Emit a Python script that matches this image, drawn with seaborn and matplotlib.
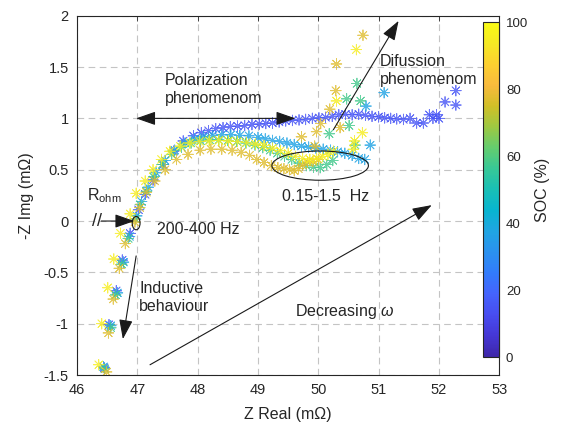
import matplotlib
matplotlib.use("Agg")
import matplotlib.pyplot as plt
import numpy as np
import pandas as pd
import seaborn as sns
from matplotlib.colors import LinearSegmentedColormap, Normalize
from matplotlib.cm import ScalarMappable
from matplotlib.patches import Ellipse
from matplotlib.ticker import FuncFormatter

# ---- impedance spectra (Nyquist), one sweep per state of charge ----
soc_levels = [15, 37, 58, 77, 95]

z_real_a = [46.45, 46.53, 46.65, 46.75, 46.88, 47.02, 47.13, 47.26, 47.43, 47.60,
            47.76, 47.93, 48.06, 48.18, 48.30, 48.42, 48.54, 48.66, 48.78, 48.90,
            49.02, 49.13, 49.24, 49.35, 49.46, 49.57, 49.68, 49.79, 49.90, 50.01,
            50.12, 50.23, 50.34, 50.45, 50.56, 50.67, 50.78, 50.89, 51.00, 51.10,
            51.20, 51.30, 51.41, 51.52, 51.63, 51.74, 51.84, 51.90, 51.96, 52.00,
            52.10, 52.28, 52.28]
z_img_a = [-1.43, -1.01, -0.68, -0.38, -0.12, 0.11, 0.26, 0.40, 0.55, 0.68,
           0.78, 0.83, 0.86, 0.88, 0.90, 0.91, 0.92, 0.925, 0.93, 0.94,
           0.945, 0.95, 0.955, 0.965, 0.975, 0.98, 0.985, 0.99, 1.0, 1.005,
           1.01, 1.02, 1.035, 1.04, 1.035, 1.04, 1.03, 1.02, 1.015, 1.005,
           1.0, 0.995, 0.99, 1.0, 0.955, 0.955, 1.035, 1.0, 1.035, 1.0,
           1.16, 1.13, 1.27]

z_real_b = [46.44, 46.56, 46.67, 46.77, 46.87, 46.99, 47.07, 47.18, 47.31, 47.46,
            47.62, 47.79, 47.95, 48.10, 48.25, 48.40, 48.55, 48.70, 48.85, 49.00,
            49.12, 49.24, 49.36, 49.48, 49.60, 49.72, 49.84, 49.96, 50.08, 50.20,
            50.32, 50.44, 50.56, 50.67, 50.77, 50.86, 50.79, 51.09]
z_img_b = [-1.42, -1.02, -0.70, -0.40, -0.15, 0.05, 0.19, 0.33, 0.47, 0.59,
           0.69, 0.76, 0.80, 0.82, 0.835, 0.84, 0.84, 0.835, 0.83, 0.815,
           0.80, 0.785, 0.775, 0.76, 0.745, 0.73, 0.72, 0.71, 0.70, 0.69,
           0.675, 0.66, 0.64, 0.61, 0.60, 0.74, 1.12, 1.25]

z_real_c = [46.46, 46.56, 46.64, 46.74, 46.85, 46.97, 47.05, 47.15, 47.27, 47.41,
            47.57, 47.73, 47.89, 48.05, 48.20, 48.35, 48.50, 48.65, 48.80, 48.95,
            49.08, 49.20, 49.32, 49.44, 49.56, 49.68, 49.80, 49.92, 50.03, 50.14,
            50.24, 50.18, 50.61, 50.51, 50.70, 50.47, 50.64]
z_img_c = [-1.44, -1.04, -0.72, -0.42, -0.17, 0.02, 0.16, 0.29, 0.43, 0.55,
           0.65, 0.72, 0.76, 0.78, 0.79, 0.79, 0.785, 0.775, 0.76, 0.74,
           0.715, 0.69, 0.66, 0.63, 0.60, 0.565, 0.54, 0.525, 0.52, 0.55,
           0.59, 0.85, 0.74, 0.93, 1.17, 1.19, 1.34]

z_real_d = [46.49, 46.52, 46.60, 46.70, 46.80, 46.96, 47.04, 47.15, 47.29, 47.46,
            47.65, 47.84, 48.04, 48.22, 48.40, 48.57, 48.72, 48.86, 48.98, 49.10,
            49.22, 49.33, 49.43, 49.52, 49.60, 49.67, 49.74, 49.82, 49.91, 50.00,
            49.94, 49.72, 49.97, 50.04, 50.36, 50.19, 50.29, 50.30, 50.74]
z_img_d = [-1.47, -1.09, -0.76, -0.46, -0.22, -0.01, 0.13, 0.28, 0.39, 0.50,
           0.60, 0.65, 0.69, 0.70, 0.70, 0.69, 0.67, 0.64, 0.60, 0.57,
           0.54, 0.52, 0.51, 0.50, 0.49, 0.51, 0.545, 0.575, 0.58, 0.60,
           0.73, 0.82, 0.87, 0.95, 0.91, 1.09, 1.27, 1.53, 1.81]

z_real_e = [46.36, 46.41, 46.51, 46.61, 46.72, 46.88, 46.98, 47.13, 47.26, 47.40,
            47.54, 47.71, 47.87, 48.03, 48.19, 48.35, 48.51, 48.66, 48.81, 48.96,
            49.10, 49.24, 49.37, 49.50, 49.62, 49.74, 49.86, 49.97, 50.07, 50.16,
            50.25, 50.30, 50.63, 50.58, 50.60, 50.73]
z_img_e = [-1.40, -1.00, -0.65, -0.37, -0.12, 0.07, 0.27, 0.39, 0.50, 0.60,
           0.68, 0.73, 0.76, 0.775, 0.78, 0.785, 0.78, 0.775, 0.765, 0.75,
           0.735, 0.71, 0.685, 0.66, 0.63, 0.61, 0.60, 0.61, 0.63, 0.65,
           0.68, 1.17, 1.67, 0.70, 0.78, 0.86]

x_ticks = [46, 47, 48, 49, 50, 51, 52, 53]
y_ticks = [-1.5, -1, -0.5, 0, 0.5, 1, 1.5, 2]
cbar_ticks = [0, 20, 40, 60, 80, 100]

sweeps = [(z_real_a, z_img_a), (z_real_b, z_img_b), (z_real_c, z_img_c),
          (z_real_d, z_img_d), (z_real_e, z_img_e)]
df = pd.concat(
    [pd.DataFrame({"z_real": xr, "z_img": yi, "soc": soc})
     for soc, (xr, yi) in zip(soc_levels, sweeps)],
    ignore_index=True,
)

# parula-like colormap
parula_rgb = [
    (0.2422, 0.1504, 0.6603), (0.2706, 0.2147, 0.8364), (0.2813, 0.3006, 0.9414),
    (0.2699, 0.3892, 0.9906), (0.1963, 0.4847, 0.9892), (0.1687, 0.5703, 0.9359),
    (0.1248, 0.6459, 0.8883), (0.0297, 0.7082, 0.8163), (0.0964, 0.7500, 0.7120),
    (0.2161, 0.7843, 0.5923), (0.3909, 0.8029, 0.4354), (0.6174, 0.7876, 0.2612),
    (0.8203, 0.7498, 0.1535), (0.9728, 0.7298, 0.2394), (0.9892, 0.8136, 0.1885),
    (0.9597, 0.9135, 0.1423), (0.9769, 0.9839, 0.0805),
]
parula = LinearSegmentedColormap.from_list("parula", parula_rgb, N=256)

sns.set_theme(style="white")
plt.rcParams["font.family"] = ["Liberation Sans", "DejaVu Sans"]
plt.rcParams["axes.unicode_minus"] = False
plt.rcParams["mathtext.fontset"] = "custom"
plt.rcParams["mathtext.rm"] = "Liberation Sans"
plt.rcParams["mathtext.it"] = "Liberation Sans:italic"

fig = plt.figure(figsize=(5.63, 4.25), dpi=100)
ax = fig.add_axes([0.1368, 0.1176, 0.7501, 0.8454])

sns.scatterplot(
    data=df, x="z_real", y="z_img", hue="soc", palette=parula, hue_norm=(0, 100),
    marker=(8, 2, 0), s=58, linewidth=0.6, alpha=0.8, legend=False, ax=ax, zorder=3,
)

ax.set_xlim(46, 53)
ax.set_ylim(-1.5, 2)
ax.set_xticks(x_ticks)
ax.set_yticks(y_ticks)
fmt = FuncFormatter(lambda v, p: f"{v:g}")
ax.xaxis.set_major_formatter(fmt)
ax.yaxis.set_major_formatter(fmt)
ax.grid(True, linestyle=(0, (6, 4)), color="#c4c4c4", linewidth=0.8)
ax.set_axisbelow(True)
for sp in ax.spines.values():
    sp.set_visible(True)
    sp.set_color("#262626")
    sp.set_linewidth(0.8)
ax.tick_params(direction="in", length=3.5, width=0.6, top=True, right=True,
               labelsize=10.5, pad=6, colors="#262626")
ax.set_xlabel("Z Real (m\u03a9)", fontsize=11.5, color="#262626", labelpad=7)
ax.set_ylabel("-Z Img (m\u03a9)", fontsize=11.5, color="#262626", labelpad=7)

# annotations
akw = dict(color="k", lw=0.8, shrinkA=0, shrinkB=0)
head = "head_length=1.0,head_width=0.35"
ax.annotate("", xy=(46.98, 1.0), xytext=(49.62, 1.0),
            arrowprops=dict(arrowstyle="<|-|>," + head, **akw))
ax.text(47.46, 1.28, "Polarization\nphenomenom", fontsize=11.5, ha="left", va="center",
        linespacing=1.25)

ax.annotate("", xy=(51.33, 1.95), xytext=(50.25, 0.89),
            arrowprops=dict(arrowstyle="-|>," + head, **akw))
ax.text(51.02, 1.47, "Difussion\nphenomenom", fontsize=11.5, ha="left", va="center",
        linespacing=1.25)

ax.add_patch(Ellipse((50.03, 0.54), 1.6, 0.285, fill=False, ec="k", lw=0.8, zorder=4))
ax.text(49.39, 0.24, "0.15-1.5  Hz", fontsize=11.5, ha="left", va="center")

ax.add_patch(Ellipse((46.98, -0.02), 0.13, 0.13, fill=False, ec="k", lw=0.8, zorder=4))
ax.text(47.33, -0.08, "200-400 Hz", fontsize=11.5, ha="left", va="center")

ax.text(46.17, 0.25, r"R$_{\mathrm{ohm}}$", fontsize=11.5, ha="left", va="center")
ax.text(46.33, 0.0, "//", fontsize=13, ha="center", va="center")
ax.annotate("", xy=(46.95, 0.0), xytext=(46.40, 0.0),
            arrowprops=dict(arrowstyle="-|>," + head, **akw))

ax.annotate("", xy=(46.76, -1.15), xytext=(46.98, -0.34),
            arrowprops=dict(arrowstyle="-|>," + head, **akw))
ax.text(47.03, -0.74, "Inductive\nbehaviour", fontsize=11.5, ha="left", va="center",
        linespacing=1.25)

ax.annotate("", xy=(51.88, 0.155), xytext=(47.21, -1.40),
            arrowprops=dict(arrowstyle="-|>," + head, **akw))
ax.text(49.62, -0.88, r"Decreasing $\omega$", fontsize=11.5, ha="left", va="center")

# colorbar
cax = fig.add_axes([0.8579, 0.16, 0.0284, 0.788])
cb = fig.colorbar(ScalarMappable(norm=Normalize(0, 100), cmap=parula), cax=cax)
cb.set_ticks(cbar_ticks)
cb.outline.set_linewidth(0.8)
cb.outline.set_edgecolor("#262626")
cax.tick_params(direction="in", length=3, width=0.6, right=True, left=False,
                labelsize=9.5, pad=5, colors="#262626")
cb.set_label("SOC (%)", fontsize=11.5, color="#262626", labelpad=5)

fig.savefig("out.png", dpi=100)
